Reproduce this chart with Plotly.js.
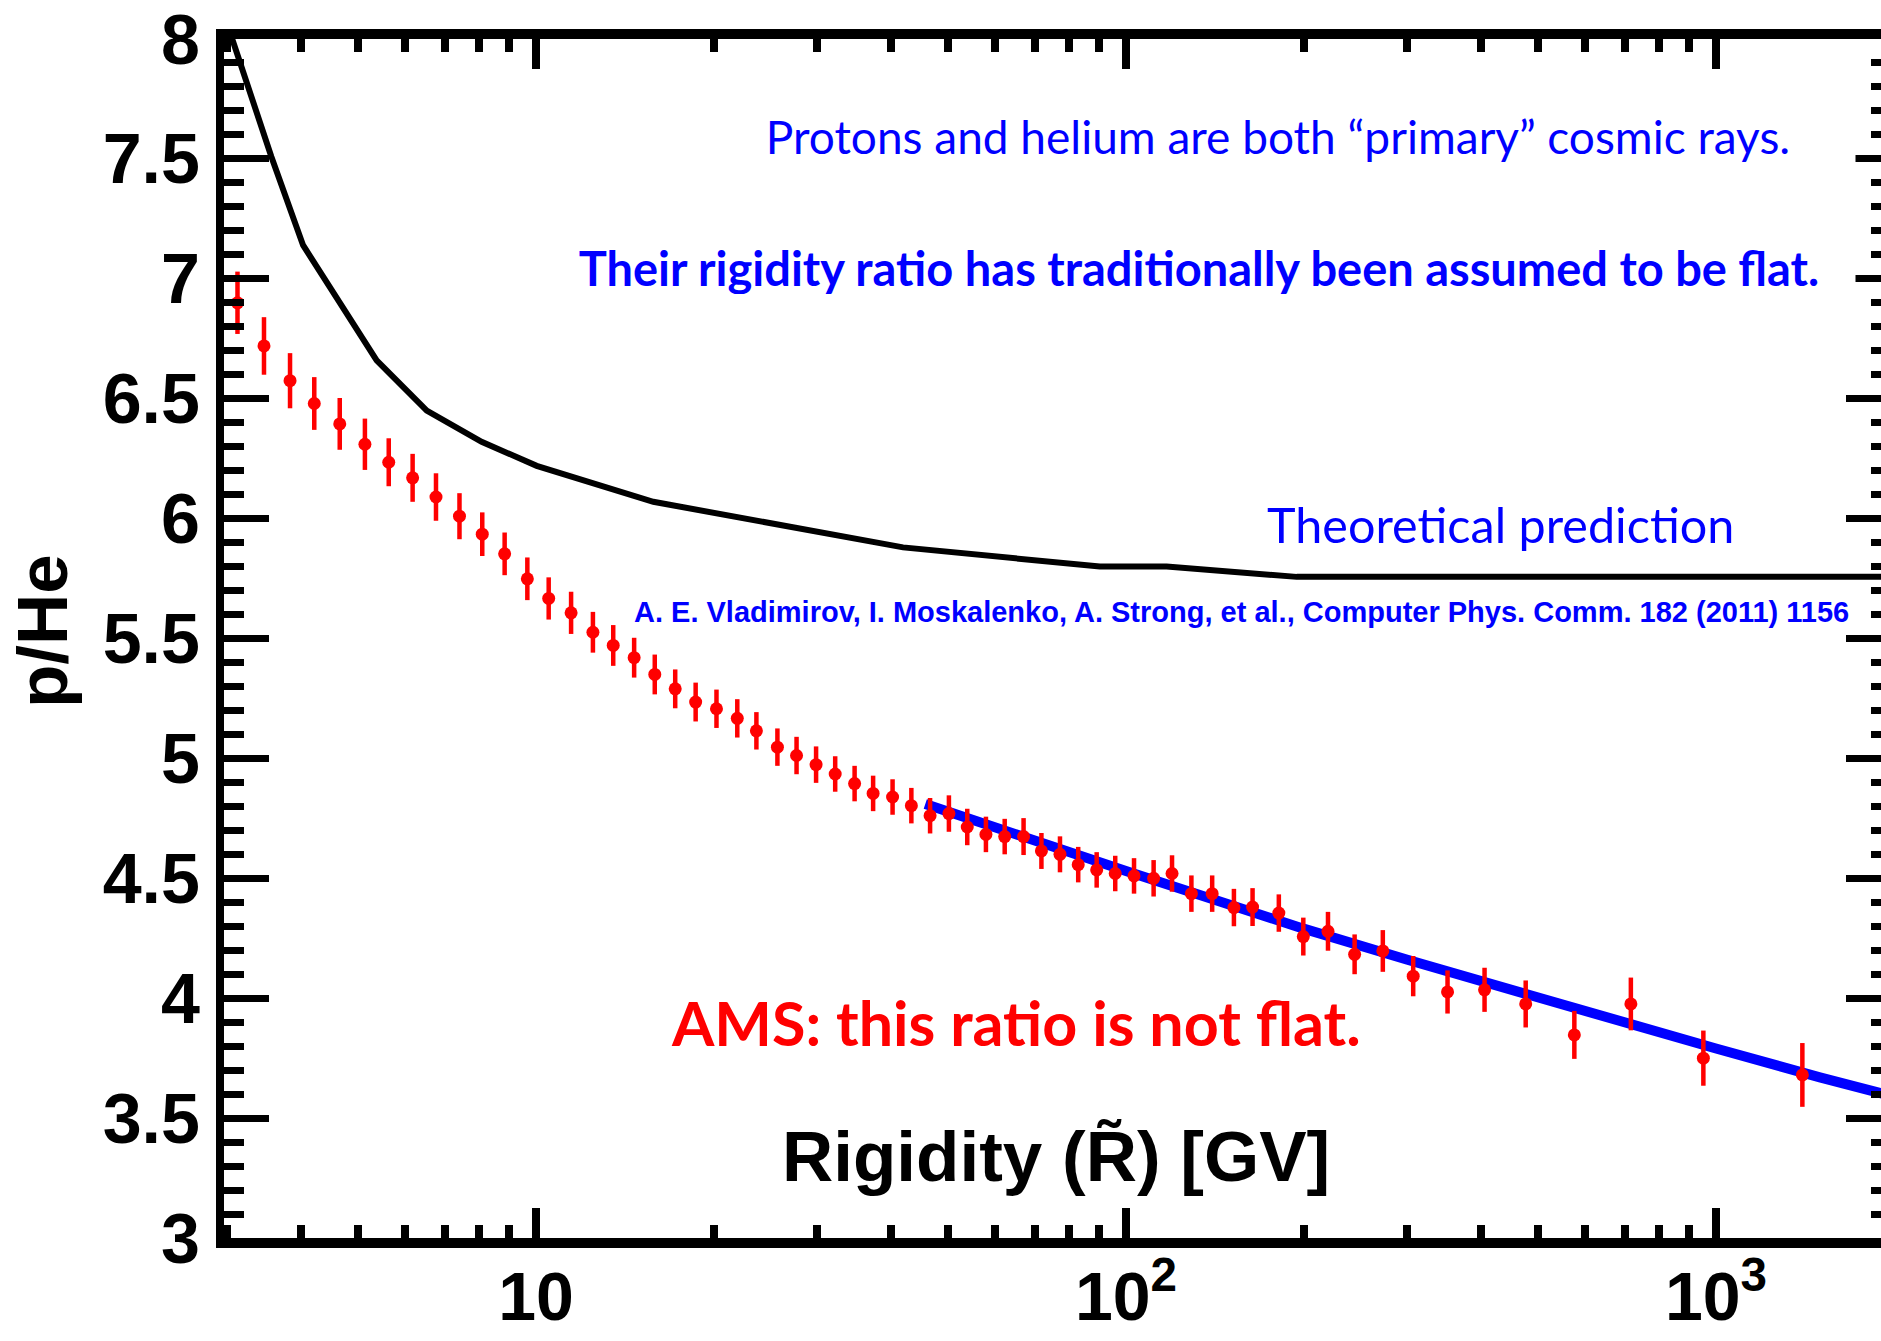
<!DOCTYPE html>
<html>
<head>
<meta charset="utf-8">
<script src="https://cdn.plot.ly/plotly-3.0.1.min.js"></script>
<style>html,body{margin:0;padding:0;overflow:hidden;background:#fff;}</style>
</head>
<body>
<div id="chart"></div>
<script>
// AMS p/He data points (rigidity in GV)
const rigidity = [3.12, 3.46, 3.83, 4.21, 4.65, 5.13, 5.63, 6.18, 6.77, 7.42,
  8.11, 8.85, 9.67, 10.51, 11.47, 12.49, 13.52, 14.67, 15.90, 17.22,
  18.65, 20.23, 21.94, 23.64, 25.66, 27.65, 29.84, 32.15, 34.68, 37.28,
  40.22, 43.28, 46.56, 50.11, 53.83, 57.9, 62.3, 67.06, 71.9, 77.3,
  83.0, 89.2, 95.9, 103.2, 111.4, 119.7, 129.1, 140.0, 152.4, 163.9,
  181.6, 199.8, 220.0, 244.1, 272.5, 306.8, 350.8, 405.3, 475.9, 575.4,
  717.4, 952, 1401];
const ratio = [6.90, 6.72, 6.575, 6.48, 6.395, 6.31, 6.235, 6.17, 6.09, 6.01,
  5.935, 5.853, 5.749, 5.667, 5.607, 5.526, 5.471, 5.42, 5.35, 5.29,
  5.235, 5.207, 5.167, 5.115, 5.047, 5.012, 4.974, 4.935, 4.895, 4.854,
  4.839, 4.803, 4.761, 4.770, 4.714, 4.683, 4.674, 4.674, 4.614, 4.600,
  4.557, 4.535, 4.520, 4.510, 4.500, 4.520, 4.436, 4.436, 4.378, 4.380,
  4.355, 4.257, 4.279, 4.183, 4.197, 4.092, 4.026, 4.035, 3.976, 3.847,
  3.976, 3.75, 3.68];
const ratioErr = [0.13, 0.12, 0.115, 0.11, 0.108, 0.107, 0.10, 0.10, 0.099, 0.096,
  0.091, 0.089, 0.089, 0.088, 0.088, 0.085, 0.085, 0.083, 0.083, 0.081,
  0.081, 0.08, 0.08, 0.078, 0.078, 0.078, 0.076, 0.074, 0.074, 0.074,
  0.074, 0.074, 0.074, 0.076, 0.076, 0.074, 0.074, 0.077, 0.075, 0.075,
  0.074, 0.074, 0.074, 0.074, 0.076, 0.076, 0.076, 0.076, 0.078, 0.079,
  0.078, 0.079, 0.081, 0.083, 0.087, 0.084, 0.09, 0.092, 0.098, 0.10,
  0.11, 0.115, 0.133];

// Theoretical prediction (black curve)
const theoryRigidity = [3.0, 3.56, 4.03, 4.53, 5.37, 6.53, 8.09, 10.03, 12.5, 15.81,
  41.9, 90.3, 117.2, 194.7, 2000];
const theoryRatio = [8.06, 7.51, 7.14, 6.94, 6.66, 6.45, 6.32, 6.22, 6.15, 6.07,
  5.88, 5.80, 5.80, 5.757, 5.757];

// Fit to AMS data above ~45 GV (blue line)
const fitRigidity = [45.7, 60, 100, 150, 200, 300, 500, 700, 1000, 1500, 2000];
const fitRatio = [4.81, 4.71, 4.53, 4.39, 4.29, 4.16, 4.00, 3.90, 3.79, 3.67, 3.59];

// Axis ticks
const xTickVals = [10, 100, 1000];
const xTickText = ['10', '10<sup>2</sup>', '10<sup>3</sup>'];
const xRange = [2.96, 1980];
const yRange = [3, 8];

// Texts
const yTitle = 'p/He';
const xTitle = 'Rigidity (R\u0303) [GV]';
const note1 = 'Protons and helium are both \u201cprimary\u201d cosmic rays.';
const note2 = 'Their rigidity ratio has traditionally been assumed to be flat.';
const note3 = 'Theoretical prediction';
const note4 = 'A. E. Vladimirov, I. Moskalenko, A. Strong, et al., Computer Phys. Comm. 182 (2011) 1156';
const note5 = 'AMS: this ratio is not flat.';

const BLUE = 'rgb(0,0,255)';
const RED = 'rgb(255,0,0)';

const traces = [
  {
    x: theoryRigidity, y: theoryRatio, type: 'scatter', mode: 'lines',
    line: {color: 'black', width: 6}, hoverinfo: 'skip'
  },
  {
    x: fitRigidity, y: fitRatio, type: 'scatter', mode: 'lines',
    line: {color: BLUE, width: 10}, hoverinfo: 'skip'
  },
  {
    x: rigidity, y: ratio, type: 'scatter', mode: 'markers',
    marker: {color: RED, size: 13},
    error_y: {type: 'data', array: ratioErr, visible: true, color: RED, thickness: 4.5, width: 0},
    cliponaxis: true
  }
];

const H = 1341;
const L = 224, R = 1891, T = 39, B = 1238;
const px = v => (v - L) / (R - L);
const py = v => (B - v) / (B - T);

const sans = 'Liberation Sans, Arial, sans-serif';
const cal = 'Lato, Open Sans, sans-serif';

const layout = {
  width: 1900, height: H,
  margin: {l: L, r: 1900 - R, t: T, b: H - B, pad: 0},
  paper_bgcolor: 'white', plot_bgcolor: 'white',
  showlegend: false,
  xaxis: {
    type: 'log',
    range: [Math.log10(xRange[0]), Math.log10(xRange[1])],
    tickmode: 'array', tickvals: xTickVals, ticktext: xTickText,
    ticks: 'inside', ticklen: 30, tickwidth: 8, tickcolor: 'black',
    showline: true, linewidth: 10, linecolor: 'black', mirror: 'allticks',
    showgrid: false, zeroline: false,
    minor: {dtick: 'D1', ticks: 'inside', ticklen: 13, tickwidth: 8, tickcolor: 'black', showgrid: false},
    tickfont: {family: 'Liberation Sans Narrow, Liberation Sans, Arial, sans-serif', size: 68, color: 'black', weight: 'bold'},
    ticklabelstandoff: -10
  },
  yaxis: {
    range: yRange, dtick: 0.5, tick0: 3,
    ticks: 'inside', ticklen: 45, tickwidth: 7, tickcolor: 'black',
    showline: true, linewidth: 8, linecolor: 'black', mirror: 'allticks',
    showgrid: false, zeroline: false,
    minor: {dtick: 0.1, ticks: 'inside', ticklen: 20, tickwidth: 7, tickcolor: 'black', showgrid: false},
    tickfont: {family: sans, size: 70, color: 'black', weight: 'bold'},
    ticklabelstandoff: 2
  },
  annotations: [
    {text: yTitle, xref: 'paper', yref: 'paper', x: px(42), y: py(631), textangle: -90,
     showarrow: false, xanchor: 'center', yanchor: 'middle',
     font: {family: sans, size: 71, color: 'black', weight: 'bold'}},
    {text: xTitle, xref: 'paper', yref: 'paper', x: px(1056), y: py(1156),
     showarrow: false, xanchor: 'center', yanchor: 'middle',
     font: {family: sans, size: 71, color: 'black', weight: 'bold'}},
    {text: note1, xref: 'paper', yref: 'paper', x: px(1278), y: py(136),
     showarrow: false, xanchor: 'center', yanchor: 'middle',
     width: 2 * (1855 - 1278), height: 52, bgcolor: 'white', borderpad: 0,
     font: {family: cal, size: 46, color: BLUE}},
    {text: note2, xref: 'paper', yref: 'paper', x: px(1199), y: py(268),
     showarrow: false, xanchor: 'center', yanchor: 'middle',
     width: 2 * (1855 - 1199), height: 52, bgcolor: 'white', borderpad: 0,
     font: {family: cal, size: 47, color: BLUE, weight: 'bold'}},
    {text: note3, xref: 'paper', yref: 'paper', x: px(1500), y: py(524),
     showarrow: false, xanchor: 'center', yanchor: 'middle',
     font: {family: cal, size: 48.5, color: BLUE}},
    {text: note4, xref: 'paper', yref: 'paper', x: px(1241), y: py(612),
     showarrow: false, xanchor: 'center', yanchor: 'middle',
     font: {family: sans, size: 29, color: BLUE, weight: 'bold'}},
    {text: note5, xref: 'paper', yref: 'paper', x: px(1016), y: py(1022),
     showarrow: false, xanchor: 'center', yanchor: 'middle',
     font: {family: cal, size: 61, color: RED, weight: 'bold'}}
  ]
};

Plotly.newPlot('chart', traces, layout, {staticPlot: true, displayModeBar: false});
</script>
</body>
</html>
